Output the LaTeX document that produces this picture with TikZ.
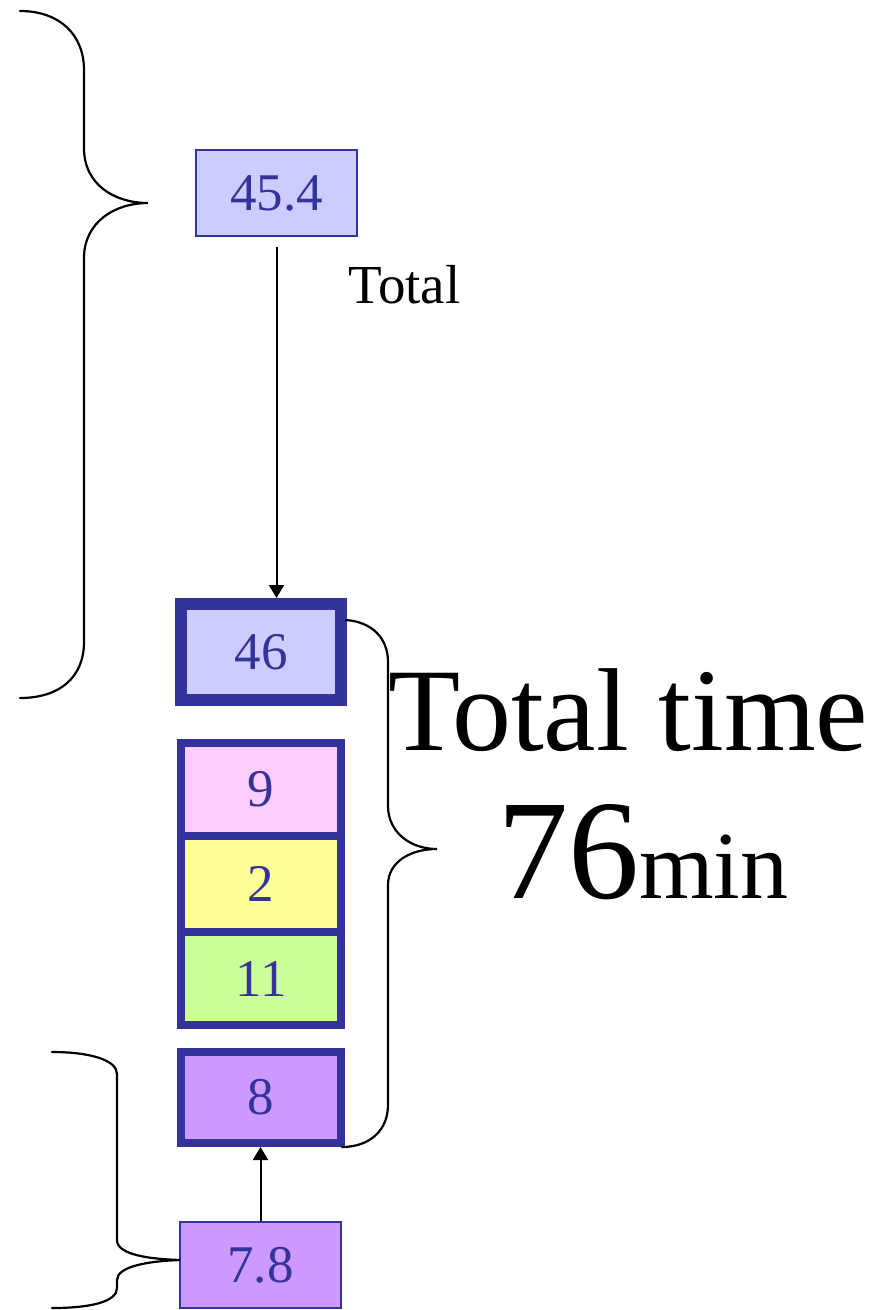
\documentclass[tikz,border=0pt]{standalone}
\usepackage{fontspec}
\setmainfont{Liberation Serif}
\usetikzlibrary{arrows.meta}
\definecolor{navy}{HTML}{333399}
\definecolor{lblue}{HTML}{CCCCFF}
\definecolor{lpink}{HTML}{FFCCFF}
\definecolor{lyellow}{HTML}{FFFF99}
\definecolor{lgreen}{HTML}{CCFF99}
\definecolor{lviolet}{HTML}{CC99FF}
\tikzset{
  numbox/.style={draw=navy, text=navy, rectangle, inner sep=0pt, minimum width=160pt,
    font=\fontsize{53}{53}\selectfont},
  thinbox/.style={numbox, line width=1.5pt},
  thickbox/.style={numbox, line width=8pt},
  conn/.style={line width=2pt, -{Triangle[width=15pt,length=13pt]}},
  brace/.style={line width=2.2pt, line cap=round}
}
\begin{document}
\begin{tikzpicture}[x=1pt,y=-1pt]
\useasboundingbox (0,0) rectangle (872,1310);
% boxes
\node[thinbox, fill=lblue, minimum width=161pt, minimum height=86pt] (b454) at (276.5,193) {45.4};
\node[thickbox, line width=12pt, fill=lblue, minimum height=96pt] (b46) at (261,652) {46};
\node[thickbox, fill=lpink, minimum height=93pt] (b9) at (261,789.5) {9};
\node[thickbox, fill=lyellow, minimum height=96pt] (b2) at (261,884) {2};
\node[thickbox, fill=lgreen, minimum height=93pt] (b11) at (261,978.5) {11};
\node[thickbox, fill=lviolet, minimum height=91pt] (b8) at (261,1097.5) {8};
\node[thinbox, fill=lviolet, minimum width=161pt, minimum height=86pt] (b78) at (260.5,1265) {7.8};
% connectors
\draw[conn, shorten <=10pt] (b454.south) -- (b454.south |- b46.north);
\draw[conn] (b78.north) -- (b78.north |- b8.south);
% labels
\node[anchor=base west, inner sep=0pt, font=\fontsize{55}{55}\selectfont] (lblTotal) at (348,303) {Total};
\node[anchor=base west, inner sep=0pt, font=\fontsize{118}{118}\selectfont] (lblTT) at (388,750) {Total time};
\node[anchor=base west, inner sep=0pt, font=\fontsize{142}{142}\selectfont] (lbl76) at (497,898) {76{\fontsize{96}{96}\selectfont min}};
% braces
\draw[brace] (20,11) .. controls (60,11) and (84,35) .. (84,70) -- (84,148)
  .. controls (84,185) and (115,203) .. (148,203)
  .. controls (115,203) and (84,222) .. (84,258) -- (84,642)
  .. controls (84,677) and (60,698) .. (20,698);
\draw[brace] (346,620) .. controls (372,622) and (388,638) .. (388,662) -- (388,806)
  .. controls (388,832) and (410,849) .. (437,849)
  .. controls (410,849) and (388,862) .. (388,885) -- (388,1105)
  .. controls (388,1130) and (370,1147) .. (342,1147);
\draw[brace] (52,1052) .. controls (90,1052) and (117,1060) .. (117,1074) -- (117,1240)
  .. controls (117,1255) and (150,1259) .. (180,1260)
  .. controls (150,1261) and (117,1266) .. (117,1280) -- (117,1288)
  .. controls (117,1302) and (90,1308) .. (52,1308);
\end{tikzpicture}
\end{document}
